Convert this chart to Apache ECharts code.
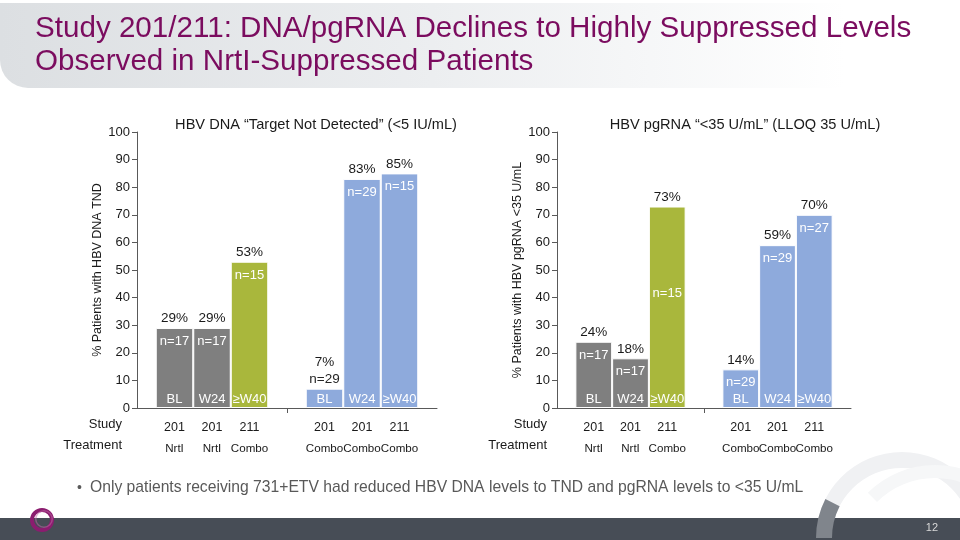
<!DOCTYPE html>
<html>
<head>
<meta charset="utf-8">
<script src="https://cdn.jsdelivr.net/npm/echarts@6/dist/echarts.min.js"></script>
<style>
html,body{margin:0;padding:0;background:#fff;}
#c{width:960px;height:540px;}
</style>
</head>
<body>
<div id="c"></div>
<script>
// ---------- data ----------
const categories = ['', 'BL', 'W24', '≥W40', '', 'BL', 'W24', '≥W40', ''];
const studies = ['', '201', '201', '211', '', '201', '201', '211', ''];
const treatments = ['', 'NrtI', 'NrtI', 'Combo', '', 'Combo', 'Combo', 'Combo', ''];
const dnaValues = [null, 29, 29, 53, null, 7, 83, 85, null];
const dnaN = ['', 'n=17', 'n=17', 'n=15', '', 'n=29', 'n=29', 'n=15', ''];
const rnaValues = [null, 24, 18, 73, null, 14, 59, 70, null];
const rnaN = ['', 'n=17', 'n=17', 'n=15', '', 'n=29', 'n=29', 'n=27', ''];
const yTicks = [0, 10, 20, 30, 40, 50, 60, 70, 80, 90, 100];
const chartTitles = ['HBV DNA \u201cTarget Not Detected\u201d (<5 IU/mL)', 'HBV pgRNA \u201c<35 U/mL\u201d (LLOQ 35 U/mL)'];
const yNames = ['% Patients with HBV DNA TND', '% Patients with HBV pgRNA <35 U/mL'];

// ---------- styles ----------
const FONT = 'Liberation Sans, Arial, sans-serif';
const GRAY = '#7f7f7f', GREEN = '#a9b73c', BLUE = '#8eaadc';
const barColors = [null, GRAY, GRAY, GREEN, null, BLUE, BLUE, BLUE, null];

const chart = echarts.init(document.getElementById('c'), null, {renderer: 'canvas'});

function makeSeries(gridIdx, values, nLabels, opts) {
  const nAbove = opts.nAbove || [];
  const nMid = opts.nMid || [];
  const main = {
    type: 'bar', xAxisIndex: gridIdx, yAxisIndex: gridIdx,
    barCategoryGap: '0%', barGap: '-100%', silent: true,
    data: values.map((v, i) => v == null ? null : {
      value: v,
      itemStyle: {color: barColors[i], borderColor: '#fff', borderWidth: 1}
    }),
    label: {
      show: true, position: 'top', distance: 1,
      fontFamily: FONT, fontSize: 13.5, color: '#1a1a1a', lineHeight: 17,
      formatter: p => p.value == null ? '' :
        (p.value + '%' + (nAbove.includes(p.dataIndex) ? '\n{n|' + nLabels[p.dataIndex] + '}' : '')),
      rich: {n: {fontFamily: FONT, fontSize: 13.5, color: '#262626', lineHeight: 17}}
    }
  };
  const nSeries = {
    type: 'bar', xAxisIndex: gridIdx, yAxisIndex: gridIdx,
    barCategoryGap: '0%', barGap: '-100%', silent: true, z: 3,
    itemStyle: {color: 'rgba(0,0,0,0)'},
    data: values.map((v, i) => {
      if (v == null) return null;
      const d = {value: v};
      if (nMid.includes(i)) d.label = {position: ['50%', '43%'], align: 'center', verticalAlign: 'middle'};
      return d;
    }),
    label: {
      show: true, position: 'insideTop', distance: 7,
      fontFamily: FONT, fontSize: 13, color: '#ffffff',
      formatter: p => nAbove.includes(p.dataIndex) ? '' : nLabels[p.dataIndex]
    }
  };
  const catSeries = {
    type: 'bar', xAxisIndex: gridIdx, yAxisIndex: gridIdx,
    barCategoryGap: '0%', barGap: '-100%', silent: true, z: 3,
    itemStyle: {color: 'rgba(0,0,0,0)'},
    data: values.map(v => v == null ? null : v),
    label: {
      show: true, position: 'insideBottom', distance: 2,
      fontFamily: FONT, fontSize: 13, color: '#ffffff',
      formatter: p => categories[p.dataIndex]
    }
  };
  return [main, nSeries, catSeries];
}

function xAxisCfg(gridIdx) {
  return {
    type: 'category', gridIndex: gridIdx, boundaryGap: false, data: categories,
    axisLine: {lineStyle: {color: '#595959', width: 1}},
    axisTick: {show: true, length: 5, interval: (i) => i === 4, lineStyle: {color: '#595959'}},
    axisLabel: {
      interval: 0, margin: 9, fontFamily: FONT, fontSize: 12.5, color: '#1a1a1a', lineHeight: 21,
      formatter: (v, i) => studies[i] ? '{s|' + studies[i] + '}\n{t|' + treatments[i] + '}' : '',
      rich: {
        s: {fontFamily: FONT, fontSize: 12.5, color: '#1a1a1a', lineHeight: 21},
        t: {fontFamily: FONT, fontSize: 11.6, color: '#1a1a1a', lineHeight: 21}
      }
    },
    splitLine: {show: false}
  };
}
function yAxisCfg(gridIdx) {
  return {
    type: 'value', gridIndex: gridIdx, min: yTicks[0], max: yTicks[yTicks.length - 1], interval: 10,
    name: yNames[gridIdx], nameLocation: 'middle', nameGap: 29,
    nameTextStyle: {fontFamily: FONT, fontSize: 12.5, color: '#1a1a1a'},
    axisLine: {show: true, lineStyle: {color: '#595959'}},
    axisTick: {show: true, length: 5, lineStyle: {color: '#595959'}},
    axisLabel: {fontFamily: FONT, fontSize: 13, color: '#1a1a1a', margin: 7},
    splitLine: {show: false}
  };
}

const option = {
  animation: false,
  backgroundColor: '#ffffff',
  title: [
    {text: chartTitles[0], left: 311, top: 112, textAlign: 'center',
     textStyle: {fontFamily: FONT, fontSize: 14.6, fontWeight: 'normal', color: '#1a1a1a'}},
    {text: chartTitles[1], left: 740, top: 112, textAlign: 'center',
     textStyle: {fontFamily: FONT, fontSize: 14.6, fontWeight: 'normal', color: '#1a1a1a'}}
  ],
  grid: [
    {left: 137, right: 523, top: 132, bottom: 132, containLabel: false},
    {left: 557, right: 109, top: 132, bottom: 132, containLabel: false}
  ],
  xAxis: [xAxisCfg(0), xAxisCfg(1)],
  yAxis: [yAxisCfg(0), yAxisCfg(1)],
  series: [
    ...makeSeries(0, dnaValues, dnaN, {nAbove: [5]}),
    ...makeSeries(1, rnaValues, rnaN, {nMid: [3]})
  ],
  graphic: [
    // header band
    {type: 'rect', z: -10, shape: {x: 0, y: 3, width: 960, height: 85, r: [0, 0, 0, 28]},
     style: {fill: new echarts.graphic.LinearGradient(0, 0, 1, 0, [
       {offset: 0, color: '#dcdfe2'}, {offset: 0.45, color: '#eceef0'}, {offset: 0.88, color: '#ffffff'}])}},
    {type: 'text', left: 35, top: 12, z: 5,
     style: {text: 'Study 201/211: DNA/pgRNA Declines to Highly Suppressed Levels\nObserved in NrtI-Suppressed Patients',
             font: '29.6px ' + FONT, fill: '#7b0c5f', lineHeight: 33}},
    // row headers
    {type: 'text', x: 122, y: 418, z: 5, style: {text: 'Study', font: '13px ' + FONT, fill: '#1a1a1a', align: 'right'}},
    {type: 'text', x: 122, y: 439, z: 5, style: {text: 'Treatment', font: '13px ' + FONT, fill: '#1a1a1a', align: 'right'}},
    {type: 'text', x: 547, y: 418, z: 5, style: {text: 'Study', font: '13px ' + FONT, fill: '#1a1a1a', align: 'right'}},
    {type: 'text', x: 547, y: 439, z: 5, style: {text: 'Treatment', font: '13px ' + FONT, fill: '#1a1a1a', align: 'right'}},
    // decorative arcs bottom right
    {type: 'sector', z: -9, shape: {cx: 902, cy: 538, r: 86, r0: 70, startAngle: Math.PI, endAngle: 2 * Math.PI},
     style: {fill: '#f0f1f3'}},
    {type: 'sector', z: -9, shape: {cx: 935, cy: 560, r: 95, r0: 82, startAngle: 1.25 * Math.PI, endAngle: 2 * Math.PI},
     style: {fill: '#f6f7f8'}},
    // bullet
    {type: 'text', x: 77, y: 481, z: 5, style: {text: '\u2022', font: '14px ' + FONT, fill: '#5a5a5a'}},
    {type: 'text', x: 90, y: 480, z: 5,
     style: {text: 'Only patients receiving 731+ETV had reduced HBV DNA levels to TND and pgRNA levels to <35 U/mL',
             font: '15.7px ' + FONT, fill: '#595959'}},
    // footer
    {type: 'rect', z: -5, shape: {x: 0, y: 518, width: 960, height: 22}, style: {fill: '#474d56'}},
    {type: 'sector', z: -4, shape: {cx: 902, cy: 538, r: 86, r0: 70, startAngle: Math.PI, endAngle: 1.15 * Math.PI},
     style: {fill: '#80858c'}},
    {type: 'text', x: 938, y: 522, z: 5, style: {text: '12', font: '11px ' + FONT, fill: '#d8d8d8', align: 'right'}},
    // logo ring
    {type: 'ring', z: 6, shape: {cx: 42, cy: 520, r: 12, r0: 8}, style: {fill: '#8b1d6f'}},
    {type: 'ring', z: 7, shape: {cx: 44, cy: 519, r: 9, r0: 7.5}, style: {fill: '#c46aa9', opacity: 0.5}}
  ]
};
chart.setOption(option);
</script>
</body>
</html>
